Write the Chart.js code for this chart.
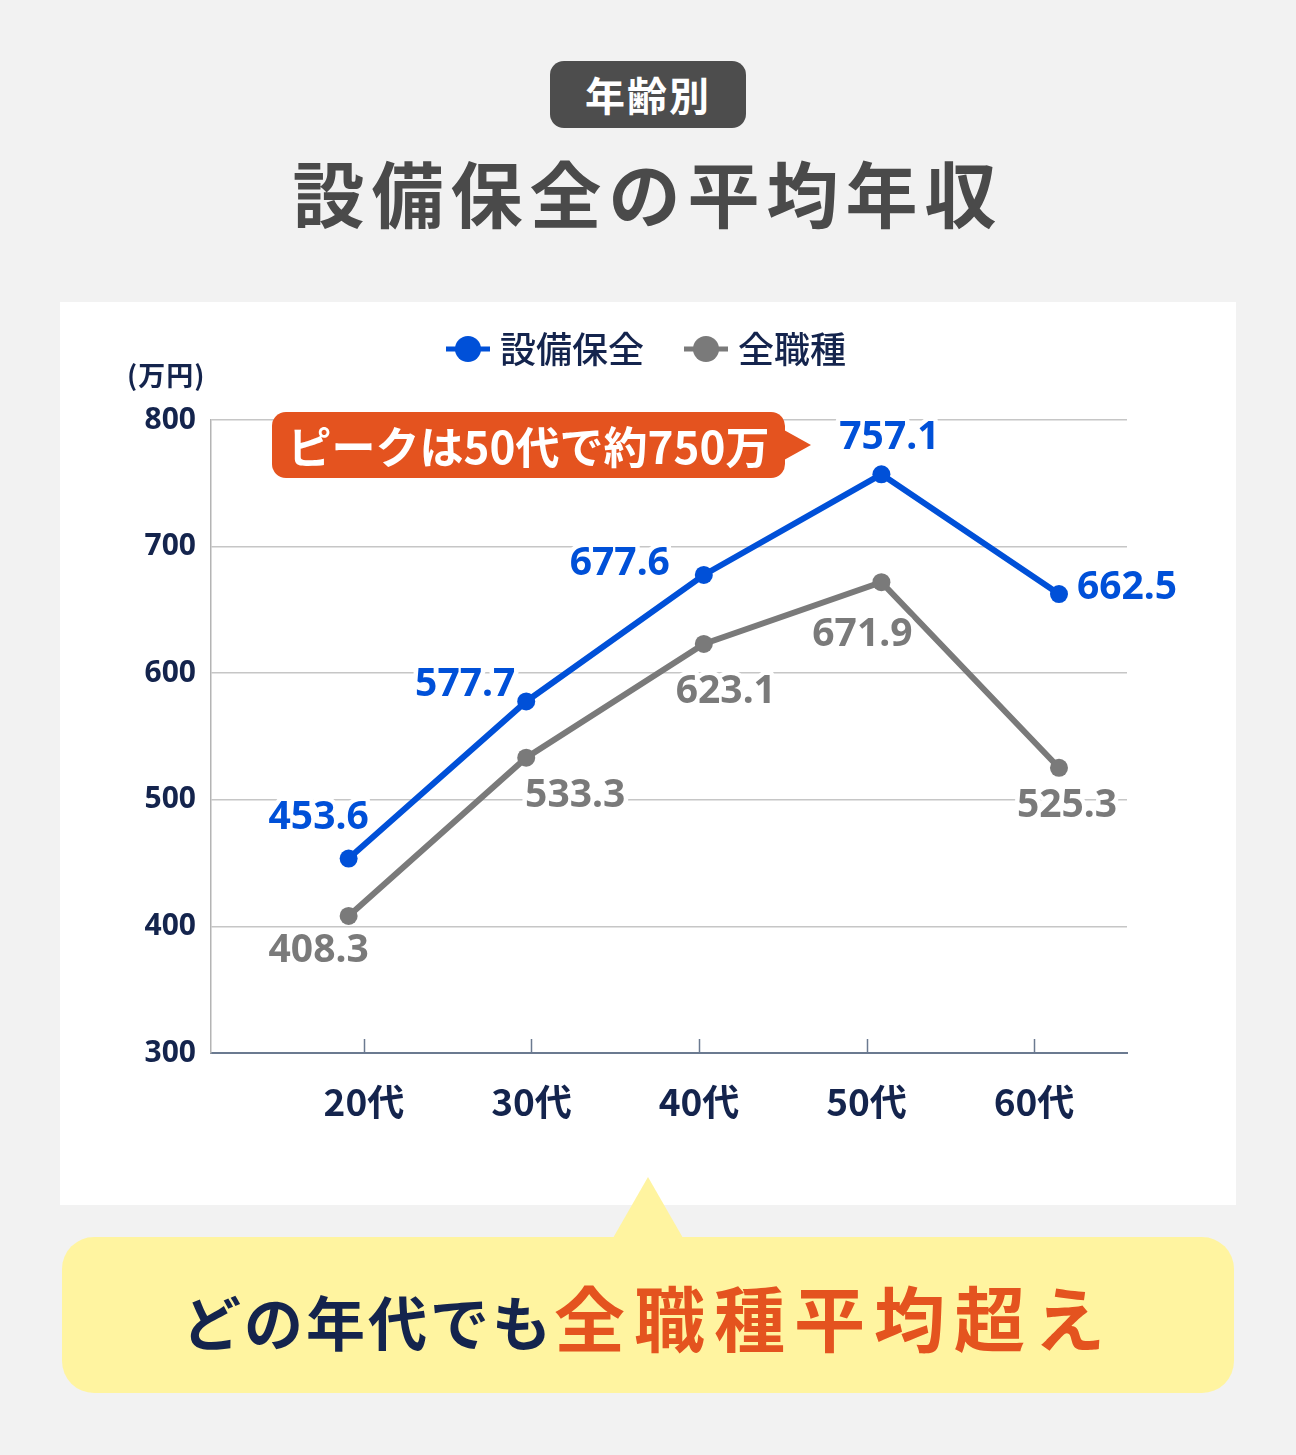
<!DOCTYPE html>
<html lang="ja">
<head>
<meta charset="utf-8">
<script src="https://cdn.jsdelivr.net/npm/chart.js@4.4.1/dist/chart.umd.min.js"></script>
<style>
  body { margin: 0; background: #f2f2f2; font-family: "Noto Sans CJK JP", "Noto Sans", sans-serif; }
  #page { position: relative; width: 1296px; height: 1455px; overflow: hidden; }
  .badge { position: absolute; left: 550px; top: 61px; width: 196px; height: 67px; background: #4d4d4d;
           border-radius: 14px; color: #fff; font-size: 40px; font-weight: 700; line-height: 67px;
           text-align: center; letter-spacing: 2px; }
  .title { position: absolute; left: 0; top: 144px; width: 1296px; text-align: center; color: #4a4a4a;
           font-size: 72px; font-weight: 700; line-height: 94px; letter-spacing: 7px; }
  .panel { position: absolute; left: 60px; top: 302px; width: 1176px; height: 903px; background: #fff; }
  .unit { position: absolute; left: 127px; top: 355px; color: #14244d; font-size: 27px; font-weight: 700;
          letter-spacing: 1px; }
  .callout { position: absolute; left: 272px; top: 412px; width: 513px; height: 66px; background: #e4531f;
             border-radius: 14px; color: #fff; font-size: 44px; font-weight: 700; line-height: 66px;
             text-align: center; }
  .callout:after { content: ""; position: absolute; right: -26px; top: 18px; border-left: 27px solid #e4531f;
                   border-top: 15px solid transparent; border-bottom: 15px solid transparent; }
  .notch { position: absolute; left: 613px; top: 1177px; width: 0; height: 0; border-bottom: 61px solid #fff4a0;
           border-left: 35px solid transparent; border-right: 35px solid transparent; }
  .note { position: absolute; left: 62px; top: 1237px; width: 1172px; height: 156px; background: #fff4a0;
          border-radius: 32px; text-align: center; line-height: 156px; font-weight: 700; white-space: nowrap; }
  .note .a { color: #14244d; font-size: 59px; letter-spacing: 3px; }
  .note .b { color: #e4531f; font-size: 71px; letter-spacing: 9px; }
</style>
</head>
<body>
<div id="page">
  <div class="badge">年齢別</div>
  <div class="title">設備保全の平均年収</div>
  <div class="panel"><canvas id="salaryChart" width="1176" height="903"></canvas></div>
  <div class="unit">(万円)</div>
  <div class="callout">ピークは50代で約750万</div>
  <div class="notch"></div>
  <div class="note"><span class="a">どの年代でも</span><span class="b">全職種平均超え</span></div>
</div>
<script>
// values
const ageLabels = ['20代', '30代', '40代', '50代', '60代'];
const maintenanceValues = [453.6, 577.7, 677.6, 757.1, 662.5];
const allJobsValues = [408.3, 533.3, 623.1, 671.9, 525.3];
const seriesNames = ['設備保全', '全職種'];

// where each value label sits relative to its point (px)
const labelOffsets = [
    [[-30, -41], [-61, -17], [-84, -11], [8, -36], [68, -6]],
    [[-30, 35], [49, 38], [22, 48], [-19, 53], [8, 38]]
];

const navy = '#14244d';
const blue = '#0050d8';
const gray = '#7a7a7a';

const toPoints = vals => vals.map((v, i) => ({ x: i, y: v }));

const valueLabels = {
    id: 'valueLabels',
    afterDatasetsDraw(chart) {
        const ctx = chart.ctx;
        ctx.save();
        ctx.font = 'bold 39px "Noto Sans"';
        ctx.textAlign = 'center';
        ctx.textBaseline = 'middle';
        ctx.lineJoin = 'round';
        chart.data.datasets.forEach((ds, i) => {
            chart.getDatasetMeta(i).data.forEach((pt, j) => {
                const txt = ds.data[j].y.toFixed(1);
                const x = pt.x + labelOffsets[i][j][0];
                const y = pt.y + labelOffsets[i][j][1];
                ctx.strokeStyle = '#fff';
                ctx.lineWidth = 9;
                ctx.strokeText(txt, x, y);
                ctx.fillStyle = ds.borderColor;
                ctx.fillText(txt, x, y);
            });
        });
        ctx.restore();
    }
};

const axisExtras = {
    id: 'axisExtras',
    afterDraw(chart) {
        const ctx = chart.ctx;
        const sc = chart.scales.x2;
        const bottom = chart.chartArea.bottom;
        ctx.save();
        // small ticks pointing up from the bottom axis
        ctx.strokeStyle = '#6b7a90';
        ctx.lineWidth = 1.5;
        sc.ticks.forEach(t => {
            const x = Math.round(sc.getPixelForValue(t.value)) + 0.5;
            ctx.beginPath();
            ctx.moveTo(x, bottom - 14);
            ctx.lineTo(x, bottom);
            ctx.stroke();
        });
        // legend: line + dot marker, then series name
        const legendX = [386, 624];
        ctx.font = '500 36px "Noto Sans CJK JP"';
        ctx.textBaseline = 'middle';
        chart.data.datasets.forEach((ds, i) => {
            const x0 = legendX[i], y0 = 47;
            ctx.strokeStyle = ds.borderColor;
            ctx.lineWidth = 5;
            ctx.beginPath();
            ctx.moveTo(x0, y0);
            ctx.lineTo(x0 + 44, y0);
            ctx.stroke();
            ctx.fillStyle = ds.borderColor;
            ctx.beginPath();
            ctx.arc(x0 + 22, y0, 13, 0, Math.PI * 2);
            ctx.fill();
            ctx.fillStyle = navy;
            ctx.fillText(ds.label, x0 + 54, y0);
        });
        ctx.restore();
    }
};

new Chart(document.getElementById('salaryChart'), {
    type: 'line',
    data: {
        datasets: [
            {
                label: seriesNames[0],
                data: toPoints(maintenanceValues),
                borderColor: blue,
                backgroundColor: blue,
                borderWidth: 6,
                pointRadius: 9,
                pointBorderWidth: 0,
                pointBackgroundColor: blue
            },
            {
                label: seriesNames[1],
                data: toPoints(allJobsValues),
                borderColor: gray,
                backgroundColor: gray,
                borderWidth: 6,
                pointRadius: 9,
                pointBorderWidth: 0,
                pointBackgroundColor: gray
            }
        ]
    },
    options: {
        responsive: false,
        animation: false,
        layout: { padding: { top: 118, right: 109, left: 0, bottom: 0 } },
        plugins: {
            legend: { display: false },
            tooltip: { enabled: false }
        },
        scales: {
            x: {
                type: 'linear',
                min: -0.775,
                max: 4.383,
                display: false
            },
            x2: {
                type: 'linear',
                position: 'bottom',
                min: -0.913,
                max: 4.555,
                afterBuildTicks: s => { s.ticks = ageLabels.map((_, i) => ({ value: i })); },
                afterFit: s => { s.height = 152; },
                ticks: {
                    callback: v => ageLabels[v],
                    color: navy,
                    font: { family: '"Noto Sans CJK JP"', size: 37, weight: 'bold' },
                    padding: 27,
                    maxRotation: 0,
                    autoSkip: false
                },
                grid: { drawOnChartArea: false, drawTicks: false },
                border: { color: '#6b7a90', width: 2 }
            },
            y: {
                min: 300,
                max: 800,
                afterFit: s => { s.width = 151; },
                ticks: {
                    stepSize: 100,
                    color: navy,
                    font: { family: '"Noto Sans"', size: 30, weight: 'bold' },
                    padding: 15
                },
                grid: { color: '#c6c6c6', lineWidth: 1.5, drawTicks: false },
                border: { color: '#b4b4b4', width: 1.5 }
            }
        }
    },
    plugins: [valueLabels, axisExtras]
});
</script>
</body>
</html>
